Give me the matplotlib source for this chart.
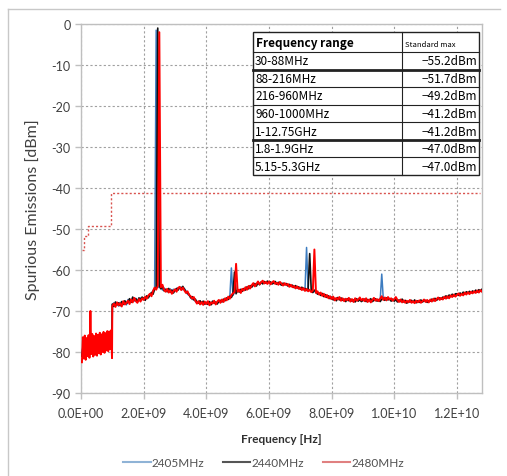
import numpy as np
import matplotlib
matplotlib.use("Agg")
import matplotlib.pyplot as plt
from matplotlib.ticker import FuncFormatter, MultipleLocator
from matplotlib.lines import Line2D

# sweep grid (GHz): low band 0.03..0.99 step 0.03, main band 1.00..12.80 step 0.05
low_freq_ghz = np.round(np.arange(0.03, 1.0, 0.03), 2)
main_freq_ghz = np.round(np.arange(1.0, 12.801, 0.05), 2)

# dBm
low_2405 = [-80.5, -78.6, -78.9, -78.0, -78.5, -77.9, -78.3, -77.6, -78.1, -77.5, -78.0, -77.4,
            -77.8, -77.3, -77.7, -77.0, -77.5, -76.8, -77.3, -76.7, -77.1, -76.5, -76.9, -76.4,
            -76.8, -76.2, -76.6, -76.0, -76.4, -75.9, -76.2, -75.8, -76.0]
low_2440 = [-81.0, -79.0, -78.2, -79.5, -77.6, -78.8, -77.2, -78.6, -77.5, -78.9, -77.0, -78.4,
            -77.3, -78.7, -76.9, -78.1, -77.2, -78.5, -76.8, -77.9, -76.5, -77.6, -76.3, -77.8,
            -76.1, -77.2, -75.9, -76.8, -75.7, -76.6, -75.5, -76.4, -76.0]
low_2480 = [-82.5, -76.4, -81.6, -76.0, -81.9, -76.6, -81.0, -75.9, -81.4, -70.0, -80.5, -75.6,
            -81.1, -76.1, -80.7, -75.5, -80.9, -75.8, -80.3, -75.3, -80.6, -75.7, -80.0, -75.1,
            -80.2, -75.4, -79.6, -74.9, -79.8, -75.0, -79.3, -74.7, -81.5]

main_2405 = [
    -68.6, -68.0, -68.7, -68.2, -68.8, -67.9, -68.3, -68.0, -67.8, -68.5,
    -67.2, -67.7, -67.4, -67.0, -67.6, -66.9, -67.5, -67.3, -66.8, -67.2,
    -67.0, -66.7, -66.5, -66.6, -66.2, -65.7, -65.0, -64.5, -1.5, -64.0,
    -64.3, -63.9, -64.9, -64.4, -65.0, -64.8, -65.2, -64.6, -65.3, -64.7,
    -64.9, -64.6, -64.3, -64.5, -64.2, -64.8, -64.5, -65.1, -65.9, -66.2,
    -66.6, -67.2, -66.9, -67.7, -67.9, -67.8, -68.0, -68.1, -67.9, -68.4,
    -68.0, -67.9, -68.3, -68.1, -67.8, -67.9, -68.1, -68.0, -67.7, -67.6,
    -67.5, -67.4, -67.2, -67.1, -66.8, -66.7, -59.5, -66.2, -65.5, -65.4,
    -65.1, -65.0, -65.1, -64.8, -64.7, -64.5, -64.4, -64.2, -64.0, -63.9,
    -63.5, -63.6, -63.6, -63.3, -63.2, -63.2, -63.0, -63.0, -63.1, -63.0,
    -63.0, -63.2, -63.2, -63.0, -63.1, -63.3, -63.2, -63.1, -63.5, -63.5,
    -63.4, -63.5, -63.7, -63.8, -63.8, -63.9, -64.1, -64.1, -64.2, -64.3,
    -64.5, -64.5, -64.6, -64.8, -54.5, -64.9, -65.0, -65.2, -65.3, -65.2,
    -65.5, -65.6, -65.8, -65.9, -66.0, -66.1, -66.3, -66.4, -66.6, -66.7,
    -66.9, -66.9, -67.1, -67.1, -67.0, -67.0, -67.2, -67.1, -67.3, -67.3,
    -67.2, -67.2, -67.4, -67.4, -67.5, -67.3, -67.3, -67.4, -67.0, -67.5,
    -67.2, -67.4, -67.3, -67.5, -67.4, -67.6, -67.5, -67.1, -67.3, -67.3,
    -67.4, -67.3, -61.0, -67.1, -66.9, -67.2, -66.8, -67.0, -67.2, -67.3,
    -67.3, -67.0, -67.5, -67.6, -67.5, -67.5, -67.6, -67.7, -67.8, -67.8,
    -67.6, -67.8, -67.8, -67.7, -67.8, -67.7, -67.7, -67.6, -67.7, -67.5,
    -67.6, -67.6, -67.7, -67.4, -67.4, -67.3, -67.3, -67.2, -66.9, -67.0,
    -67.0, -66.9, -66.7, -66.7, -66.6, -66.5, -66.4, -66.3, -66.2, -66.1,
    -66.0, -65.9, -65.9, -65.8, -65.7, -65.7, -65.6, -65.5, -65.5, -65.4,
    -65.4, -65.3, -65.2, -65.2, -65.1, -65.0, -65.0]

main_2440 = [
    -68.3, -68.9, -67.8, -68.5, -68.0, -68.7, -67.7, -68.4, -67.5, -68.2,
    -67.8, -67.0, -67.9, -66.6, -67.4, -67.0, -67.8, -66.8, -67.3, -66.6,
    -66.9, -67.4, -66.3, -66.8, -66.0, -65.5, -65.9, -64.7, -64.2, -1.0,
    -63.8, -64.6, -64.0, -65.1, -64.7, -65.3, -64.5, -65.4, -64.9, -65.6,
    -65.0, -64.5, -64.9, -64.2, -64.6, -64.0, -64.7, -65.3, -65.7, -65.9,
    -66.8, -66.5, -67.3, -67.1, -67.8, -68.1, -67.5, -68.2, -67.6, -68.3,
    -67.9, -68.4, -67.7, -68.5, -67.6, -68.1, -67.8, -68.3, -67.6, -67.4,
    -67.8, -67.1, -67.5, -66.8, -67.2, -66.4, -66.7, -65.9, -60.5, -65.8,
    -64.9, -65.4, -64.7, -65.2, -64.5, -64.9, -64.1, -64.6, -63.8, -64.2,
    -63.7, -63.3, -63.9, -63.1, -63.6, -62.9, -63.4, -62.8, -63.2, -62.7,
    -63.1, -62.9, -63.4, -63.2, -62.8, -63.5, -63.0, -63.4, -63.7, -63.2,
    -63.6, -63.3, -63.9, -63.5, -64.0, -63.7, -64.3, -63.8, -64.4, -64.1,
    -64.7, -64.2, -64.8, -64.5, -65.0, -64.6, -56.0, -65.1, -65.5, -64.9,
    -65.3, -65.9, -65.6, -66.2, -65.7, -66.5, -66.0, -66.7, -66.3, -67.0,
    -66.6, -67.3, -66.9, -67.5, -66.7, -67.3, -66.8, -67.4, -67.1, -67.7,
    -67.0, -67.5, -67.1, -67.6, -67.3, -67.8, -67.0, -67.6, -67.2, -67.7,
    -67.4, -67.1, -67.7, -67.2, -67.5, -67.0, -67.7, -67.4, -67.0, -67.6,
    -67.2, -67.7, -67.1, -66.9, -67.4, -66.8, -67.3, -67.0, -67.6, -67.1,
    -67.6, -67.2, -67.8, -67.3, -67.7, -67.1, -67.8, -67.4, -68.1, -67.6,
    -67.8, -67.4, -67.9, -67.3, -68.0, -67.5, -67.9, -67.3, -67.8, -67.5,
    -67.4, -67.9, -67.5, -67.6, -67.1, -67.5, -66.9, -67.4, -67.0, -66.8,
    -67.1, -66.6, -66.9, -66.3, -66.8, -66.1, -66.5, -65.9, -66.4, -65.8,
    -65.8, -66.2, -65.6, -66.0, -65.4, -65.9, -65.3, -65.7, -65.2, -65.6,
    -65.1, -65.5, -64.9, -65.4, -64.8, -65.2, -64.7]

main_2480 = [
    -68.8, -68.2, -69.0, -67.9, -68.6, -68.1, -68.9, -67.6, -68.4, -68.0,
    -67.5, -68.3, -67.2, -67.9, -66.8, -67.6, -68.0, -67.1, -67.7, -66.9,
    -67.3, -66.5, -67.0, -66.2, -65.8, -66.4, -65.1, -64.3, -64.8, -63.9,
    -2.0, -64.2, -63.6, -64.8, -65.3, -64.6, -65.5, -64.9, -65.8, -65.2,
    -64.7, -65.3, -64.4, -64.1, -64.9, -64.3, -65.0, -65.6, -65.2, -66.1,
    -66.4, -67.0, -66.6, -67.5, -68.2, -67.6, -68.4, -67.8, -68.5, -67.7,
    -68.3, -67.6, -68.6, -67.9, -68.2, -67.5, -68.4, -67.7, -67.3, -68.0,
    -67.2, -67.8, -66.9, -67.4, -66.5, -67.0, -66.1, -65.7, -65.4, -58.5,
    -65.3, -64.8, -65.6, -64.6, -65.0, -64.2, -64.8, -63.9, -64.5, -63.7,
    -63.2, -64.0, -63.4, -62.8, -63.5, -63.0, -62.6, -63.3, -62.9, -63.4,
    -62.8, -63.5, -63.0, -62.7, -63.4, -63.1, -63.6, -62.9, -63.3, -63.8,
    -63.2, -63.7, -63.4, -64.1, -63.6, -64.2, -63.9, -64.5, -64.0, -64.6,
    -64.3, -64.9, -64.4, -65.1, -64.6, -65.2, -64.8, -65.4, -65.0, -55.0,
    -65.6, -65.2, -66.0, -65.5, -66.3, -65.8, -66.6, -66.1, -66.9, -66.4,
    -67.1, -66.5, -67.4, -66.8, -67.2, -66.6, -67.5, -66.9, -67.6, -67.0,
    -67.4, -66.8, -67.7, -67.1, -67.8, -66.9, -67.5, -67.2, -66.7, -67.4,
    -67.0, -67.6, -66.9, -67.8, -67.2, -67.9, -67.3, -66.8, -67.5, -67.1,
    -67.6, -67.0, -66.4, -67.3, -66.7, -67.4, -66.6, -67.2, -66.9, -67.5,
    -67.1, -66.6, -67.3, -67.8, -67.2, -67.9, -67.4, -68.0, -67.5, -67.9,
    -67.3, -68.0, -67.6, -68.1, -67.5, -67.9, -67.4, -68.0, -67.6, -67.2,
    -67.8, -67.3, -67.9, -67.2, -67.7, -67.0, -67.6, -67.1, -66.7, -67.3,
    -66.8, -67.2, -66.5, -67.0, -66.4, -66.9, -66.2, -66.6, -66.0, -66.5,
    -66.1, -65.7, -66.3, -65.8, -66.2, -65.5, -66.0, -65.4, -65.9, -65.3,
    -65.7, -65.2, -65.6, -65.0, -65.5, -64.9, -65.3]

series_names = ["2405MHz", "2440MHz", "2480MHz"]
series_colors = ["#3d7cc0", "#111111", "#ff0000"]
series_widths = [1.1, 1.2, 1.4]
legend_colors = ["#8fb3d6", "#555555", "#e08080"]

# standard limit line (Hz, dBm)
limit_freq = [30e6, 88e6, 216e6, 960e6, 12.75e9]
limit_level = [-55.2, -51.7, -49.2, -41.2, -41.2]

table_ranges = ["30-88MHz", "88-216MHz", "216-960MHz", "960-1000MHz",
                "1-12.75GHz", "1.8-1.9GHz", "5.15-5.3GHz"]
table_limits = ["-55.2dBm", "-51.7dBm", "-49.2dBm", "-41.2dBm",
                "-41.2dBm", "-47.0dBm", "-47.0dBm"]

plt.rcParams['font.family'] = ['Lato', 'DejaVu Sans']

W, H = 507, 477
fig = plt.figure(figsize=(W / 100, H / 100), dpi=100)
ax = fig.add_axes([81 / W, 1 - 394 / H, (482 - 81) / W, (394 - 25) / H])

freq_hz = np.concatenate([low_freq_ghz, main_freq_ghz]) * 1e9
all_series = [low_2405 + main_2405, low_2440 + main_2440, low_2480 + main_2480]
for vals, c, w in zip(all_series, series_colors, series_widths):
    ax.plot(freq_hz, vals, color=c, lw=w, zorder=3)

ax.plot(limit_freq, limit_level, drawstyle='steps-post', color='#d9534f',
        lw=1.0, linestyle=(0, (1.5, 1.5)), zorder=2)

ax.set_xlim(0, 1.28e10)
ax.set_ylim(-90, 0)
ax.xaxis.set_major_locator(MultipleLocator(2e9))
ax.yaxis.set_major_locator(MultipleLocator(10))
ax.xaxis.set_major_formatter(FuncFormatter(lambda v, p: f"{v:.1E}"))
ax.yaxis.set_major_formatter(FuncFormatter(lambda v, p: f"{v:.0f}"))
ax.grid(True, color='#a0a0a0', lw=0.8, linestyle=(0, (2, 2)), zorder=0)
ax.set_axisbelow(True)
for s in ax.spines.values():
    s.set_color('#bfbfbf')
    s.set_linewidth(1.0)
ax.tick_params(axis='both', colors='#bfbfbf', length=4, width=1,
               labelcolor='#404040', labelsize=9)
ax.tick_params(axis='x', pad=6)

ax.set_ylabel("Spurious Emissions [dBm]", fontsize=11.5, color='#404040', labelpad=8)
ax.set_xlabel("Frequency [Hz]", fontsize=8.5, fontweight='bold', color='#303030', labelpad=10)

# limits table, drawn in figure pixels
def fx(px):
    return px / W

def fy(py):
    return 1 - py / H

tl, tr, tsplit = 253, 479, 402
ttop, thead = 33, 53
row_h = (176 - thead) / len(table_ranges)
tfont = ['Noto Sans CJK JP', 'DejaVu Sans']
fig.patches.append(plt.Rectangle((fx(tl), fy(176)), fx(tr) - fx(tl), fy(ttop) - fy(176),
                                 transform=fig.transFigure, facecolor='white',
                                 edgecolor='#222222', lw=1.0, zorder=5))
fig.add_artist(Line2D([fx(tsplit)] * 2, [fy(ttop), fy(176)], color='#222222', lw=0.8, zorder=6))
fig.add_artist(Line2D([fx(tl), fx(tr)], [fy(thead)] * 2, color='#222222', lw=0.8, zorder=6))
fig.text(fx(tl + 3), fy((ttop + thead) / 2), "Frequency range", fontsize=8.5,
         fontweight='bold', family=tfont, va='center', ha='left', zorder=7)
fig.text(fx(tsplit + 3), fy((ttop + thead) / 2 + 2), "Standard max", fontsize=5.5,
         family=tfont, va='center', ha='left', zorder=7)
for i, (rng, lim) in enumerate(zip(table_ranges, table_limits)):
    y0 = thead + i * row_h
    y1 = y0 + row_h
    fig.text(fx(tl + 2), fy((y0 + y1) / 2), rng, fontsize=8.5, family=tfont,
             va='center', ha='left', zorder=7)
    fig.text(fx(tr - 2), fy((y0 + y1) / 2), lim.replace("-", "\u2212"), fontsize=8.5,
             family=tfont, va='center', ha='right', zorder=7)
    lw = 2.0 if i in (0, 4) else 0.8
    if i < len(table_ranges) - 1:
        fig.add_artist(Line2D([fx(tl), fx(tr)], [fy(y1)] * 2, color='#222222', lw=lw, zorder=6))

# legend
handles = [Line2D([], [], color=c, lw=1.5) for c in legend_colors]
fig.legend(handles, series_names, loc='center', bbox_to_anchor=(0.52, 1 - 464 / H),
           ncol=3, frameon=False, fontsize=8.5, handlelength=2.3, handletextpad=0.1,
           columnspacing=1.6, labelcolor='#505050')

# outer chart frame
fig.add_artist(Line2D([fx(8), fx(500)], [fy(10)] * 2, color='#c8c8c8', lw=1.0))
fig.add_artist(Line2D([fx(8)] * 2, [fy(10), 0], color='#c8c8c8', lw=1.0))

fig.savefig("out.png", dpi=100)
